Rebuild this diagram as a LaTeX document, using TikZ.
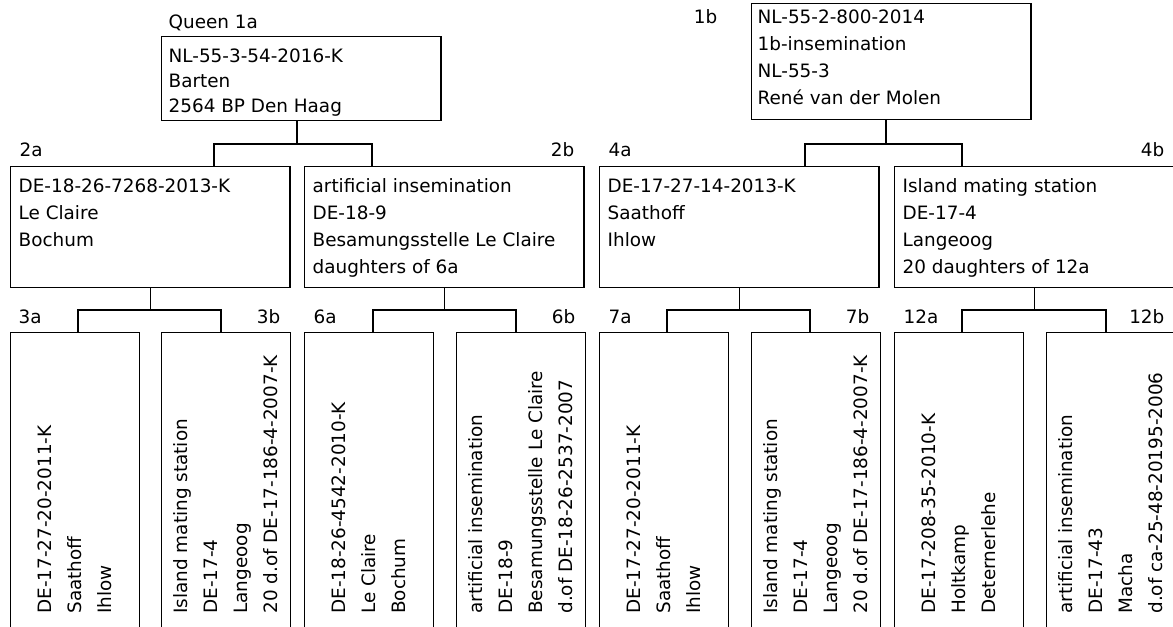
\documentclass[tikz,border=0pt]{standalone}
\usepackage{fontspec}
\setmainfont{DejaVu Sans}
\usetikzlibrary{positioning}

\begin{document}
\begin{tikzpicture}[x=0.75pt, y=-0.75pt, line width=1pt,
        font=\fontsize{13.8}{20.25}\selectfont,
        box/.style={draw, inner sep=0pt, anchor=north west, minimum width=209.5pt},
        slim/.style={draw, inner sep=0pt, anchor=north west, minimum width=96.4pt, minimum height=238.5pt},
        rows/.style={align=left, inner sep=0pt},
        cols/.style={align=left, inner sep=0pt, rotate=90, anchor=west, font=\fontsize{13.8}{22.5}\selectfont},
        tag/.style={inner sep=0pt}]
                \useasboundingbox (0,0) rectangle (1173,626);
                \clip (0,0) rectangle (1173,626);

                \node[box, minimum height=63pt] (b1a) at (161,36) {};
                \node[box, minimum height=87pt] (b1b) at (751,3) {};
                \node[box, minimum height=90.75pt] (b2a) at (10,166) {};
                \node[box, minimum height=90.75pt] (b2b) at (304,166) {};
                \node[box, minimum height=90.75pt] (b4a) at (599,166) {};
                \node[box, minimum height=90.75pt] (b4b) at (894,166) {};
                \node[slim] (b3a) at (10,332) {};
                \node[slim] (b3b) at (161,332) {};
                \node[slim] (b6a) at (304,332) {};
                \node[slim] (b6b) at (456,332) {};
                \node[slim] (b7a) at (599,332) {};
                \node[slim] (b7b) at (751,332) {};
                \node[slim] (b12a) at (894,332) {};
                \node[slim] (b12b) at (1046,332) {};

                \node[rows, below right=9pt and 5.25pt of b1a.north west, font=\fontsize{13.8}{18.75}\selectfont] (t1a) {NL-55-3-54-2016-K\\Barten\\2564 BP Den Haag};
                \node[rows, below right=4.5pt and 4.5pt of b1b.north west] (t1b) {NL-55-2-800-2014\\1b-insemination\\NL-55-3\\René van der Molen};
                \node[rows, below right=9pt and 6pt of b2a.north west] (t2a) {DE-18-26-7268-2013-K\\Le Claire\\Bochum};
                \node[rows, below right=9pt and 6pt of b2b.north west] (t2b) {artificial insemination\\DE-18-9\\Besamungsstelle Le Claire\\daughters of 6a};
                \node[rows, below right=9pt and 6pt of b4a.north west] (t4a) {DE-17-27-14-2013-K\\Saathoff\\Ihlow};
                \node[rows, below right=9pt and 6pt of b4b.north west] (t4b) {Island mating station\\DE-17-4\\Langeoog\\20 daughters of 12a};

                \node[cols] (t3a) at ([yshift=27.75pt]b3a.south) {DE-17-27-20-2011-K\\Saathoff\\Ihlow};
                \node[cols] (t3b) at ([yshift=27.75pt]b3b.south) {Island mating station\\DE-17-4\\Langeoog\\20 d.of DE-17-186-4-2007-K};
                \node[cols] (t6a) at ([yshift=27.75pt]b6a.south) {DE-18-26-4542-2010-K\\Le Claire\\Bochum};
                \node[cols] (t6b) at ([yshift=27.75pt]b6b.south) {artificial insemination\\DE-18-9\\Besamungsstelle Le Claire\\d.of DE-18-26-2537-2007};
                \node[cols] (t7a) at ([yshift=27.75pt]b7a.south) {DE-17-27-20-2011-K\\Saathoff\\Ihlow};
                \node[cols] (t7b) at ([yshift=27.75pt]b7b.south) {Island mating station\\DE-17-4\\Langeoog\\20 d.of DE-17-186-4-2007-K};
                \node[cols] (t12a) at ([yshift=27.75pt]b12a.south) {DE-17-208-35-2010-K\\Holtkamp\\Deternerlehe};
                \node[cols] (t12b) at ([yshift=27.75pt]b12b.south) {artificial insemination\\DE-17-43\\Macha\\d.of ca-25-48-20195-2006};

                \node[tag, anchor=base west] (q1a) at (168,28) {Queen 1a};
                \node[tag, anchor=east] (q1b) at (718,17) {1b};
                \node[tag, anchor=west] (q2a) at (19,150) {2a};
                \node[tag, anchor=east] (q2b) at (575,150) {2b};
                \node[tag, anchor=west] (q4a) at (608,150) {4a};
                \node[tag, anchor=east] (q4b) at (1165,150) {4b};
                \node[tag, anchor=west] (q3a) at (18,317) {3a};
                \node[tag, anchor=east] (q3b) at (281,317) {3b};
                \node[tag, anchor=west] (q6a) at (313,317) {6a};
                \node[tag, anchor=east] (q6b) at (576,317) {6b};
                \node[tag, anchor=west] (q7a) at (608,317) {7a};
                \node[tag, anchor=east] (q7b) at (870,317) {7b};
                \node[tag, anchor=west] (q12a) at (903,317) {12a};
                \node[tag, anchor=east] (q12b) at (1165,317) {12b};

                \coordinate (j1a) at (297,144);
                \coordinate (j1b) at (886,144);
                \coordinate (e2a) at (214,144);
                \coordinate (e2b) at (372,144);
                \coordinate (e4a) at (805,144);
                \coordinate (e4b) at (962,144);
                \draw (b1a.south -| j1a) -- (j1a);
                \draw (e2a |- b2a.north) -- (e2a) -- (e2b) -- (e2b |- b2b.north);
                \draw (b1b.south -| j1b) -- (j1b);
                \draw (e4a |- b4a.north) -- (e4a) -- (e4b) -- (e4b |- b4b.north);

                \coordinate (e3a) at (78,310);
                \coordinate (e3b) at (221,310);
                \coordinate (e6a) at (373,310);
                \coordinate (e6b) at (516,310);
                \coordinate (e7a) at (667,310);
                \coordinate (e7b) at (810,310);
                \coordinate (e12a) at (962,310);
                \coordinate (e12b) at (1106,310);
                \draw (b2a.south) -- (b2a.south |- e3a);
                \draw (e3a |- b3a.north) -- (e3a) -- (e3b) -- (e3b |- b3b.north);
                \draw (b2b.south) -- (b2b.south |- e6a);
                \draw (e6a |- b6a.north) -- (e6a) -- (e6b) -- (e6b |- b6b.north);
                \draw (b4a.south) -- (b4a.south |- e7a);
                \draw (e7a |- b7a.north) -- (e7a) -- (e7b) -- (e7b |- b7b.north);
                \draw (b4b.south) -- (b4b.south |- e12a);
                \draw (e12a |- b12a.north) -- (e12a) -- (e12b) -- (e12b |- b12b.north);

            \end{tikzpicture}
\end{document}
